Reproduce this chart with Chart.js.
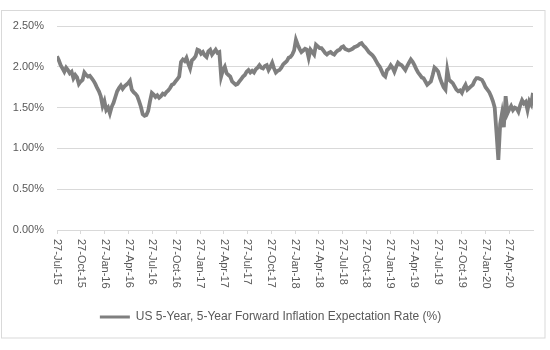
<!DOCTYPE html>
<html>
<head>
<meta charset="utf-8">
<script src="https://cdn.jsdelivr.net/npm/chart.js"></script>
<style>
  html, body { margin: 0; padding: 0; background: #fff; }
</style>
</head>
<body>
<canvas id="myChart" width="550" height="350"></canvas>
<script>
/*---------------------------- data ------------------------------------*/

// weekly readings, first one on 27-Jul-15
var startDate = '2015-07-27';
var tickLabels = ['27-Jul-15','27-Oct-15','27-Jan-16','27-Apr-16','27-Jul-16','27-Oct-16',
  '27-Jan-17','27-Apr-17','27-Jul-17','27-Oct-17','27-Jan-18','27-Apr-18','27-Jul-18',
  '27-Oct-18','27-Jan-19','27-Apr-19','27-Jul-19','27-Oct-19','27-Jan-20','27-Apr-20'];
var tickDates = ['2015-07-27','2015-10-27','2016-01-27','2016-04-27','2016-07-27','2016-10-27',
  '2017-01-27','2017-04-27','2017-07-27','2017-10-27','2018-01-27','2018-04-27','2018-07-27',
  '2018-10-27','2019-01-27','2019-04-27','2019-07-27','2019-10-27','2020-01-27','2020-04-27'];
var seriesName = 'US 5-Year, 5-Year Forward Inflation Expectation Rate (%)';
var rate = [
  2.13,2.08,2.02,1.98,1.94,1.99,1.96,1.92,1.94,1.86,1.90,1.87,1.79,
  1.82,1.84,1.93,1.90,1.88,1.89,1.86,1.83,1.79,1.74,1.70,1.64,1.52,
  1.58,1.47,1.50,1.43,1.51,1.56,1.63,1.70,1.74,1.77,1.73,1.76,1.78,
  1.80,1.83,1.72,1.69,1.67,1.64,1.58,1.51,1.42,1.40,1.41,1.46,1.58,
  1.68,1.66,1.63,1.65,1.62,1.64,1.67,1.66,1.69,1.71,1.74,1.78,1.79,
  1.82,1.85,1.88,2.06,2.09,2.07,2.11,2.04,1.98,2.08,2.10,2.13,2.21,
  2.20,2.16,2.18,2.14,2.12,2.19,2.21,2.15,2.18,2.21,2.17,2.18,1.88,
  1.96,2.00,1.92,1.90,1.88,1.82,1.80,1.78,1.79,1.82,1.85,1.88,1.90,
  1.94,1.96,1.93,1.95,1.93,1.97,1.99,2.02,1.99,1.98,2.01,2.02,1.96,
  2.00,2.05,1.98,1.93,1.95,1.96,1.99,2.03,2.05,2.07,2.11,2.12,2.15,
  2.20,2.33,2.27,2.22,2.18,2.20,2.22,2.21,2.11,2.21,2.18,2.15,2.27,
  2.25,2.23,2.23,2.20,2.17,2.15,2.17,2.18,2.16,2.15,2.18,2.20,2.21,
  2.24,2.25,2.22,2.21,2.20,2.21,2.22,2.24,2.25,2.26,2.28,2.29,2.26,
  2.24,2.21,2.18,2.16,2.14,2.11,2.07,2.03,2.00,1.95,1.90,1.88,1.96,
  1.98,2.02,1.99,1.94,2.00,2.05,2.03,2.02,1.99,1.96,2.01,2.05,2.09,
  2.06,2.02,1.97,1.93,1.90,1.87,1.86,1.82,1.78,1.80,1.82,1.90,1.99,
  1.97,1.94,1.86,1.80,1.75,1.72,1.96,1.84,1.82,1.80,1.76,1.72,1.70,
  1.71,1.68,1.74,1.78,1.72,1.74,1.76,1.78,1.83,1.86,1.86,1.85,1.84,
  1.80,1.75,1.72,1.69,1.64,1.58,1.50,1.19,0.86,1.30,1.43,1.26,1.64,
  1.43,1.48,1.52,1.47,1.50,1.49,1.45,1.53,1.59,1.55,1.57,1.47,1.58,
  1.54,1.68
];
var yTicks = [0, 0.5, 1.0, 1.5, 2.0, 2.5];

/*---------------------------- helpers ------------------------------------*/

function dayOffset(d) {
  return (Date.parse(d) - Date.parse(startDate)) / 86400000;
}
var tickDays = tickDates.map(dayOffset);
var points = rate.map(function (v, i) { return { x: i * 7, y: v }; });

var fontFamily = '"Liberation Sans", Arial, sans-serif';
var labelFont = '11px ' + fontFamily;
var textColor = '#595959';
var gridColor = '#d9d9d9';

// Excel style: tick labels turned a quarter clockwise, reading downwards
var rotatedLabels = {
  id: 'rotatedLabels',
  beforeDraw: function (chart) {
    var ctx = chart.ctx;
    ctx.save();
    ctx.strokeStyle = gridColor;
    ctx.lineWidth = 1;
    ctx.strokeRect(1.5, 10.5, 543.5, 327.5);
    ctx.restore();
  },
  afterDraw: function (chart) {
    var ctx = chart.ctx;
    var xs = chart.scales.x;
    ctx.save();
    ctx.font = labelFont;
    ctx.fillStyle = textColor;
    ctx.textAlign = 'left';
    ctx.textBaseline = 'middle';
    tickLabels.forEach(function (lab, i) {
      var px = xs.getPixelForValue(tickDays[i]);
      ctx.save();
      ctx.translate(px, chart.chartArea.bottom + 9);
      ctx.rotate(Math.PI / 2);
      ctx.fillText(lab, 0, 0);
      ctx.restore();
    });
    ctx.restore();
  }
};

/*---------------------------- LineChart ------------------------------------*/

new Chart('myChart', {
  type: 'line',
  data: {
    datasets: [{
      label: seriesName,
      data: points,
      borderColor: '#7f7f7f',
      backgroundColor: '#7f7f7f',
      borderWidth: 3.8,
      pointRadius: 0,
      tension: 0,
      fill: false
    }]
  },
  options: {
    responsive: false,
    animation: false,
    layout: { padding: { left: 8, right: 17, top: 26, bottom: 17 } },
    plugins: {
      tooltip: { enabled: false },
      legend: {
        position: 'bottom',
        labels: {
          boxWidth: 30,
          boxHeight: 3,
          padding: 4,
          color: textColor,
          font: { family: fontFamily, size: 12 },
          generateLabels: function (chart) {
            return Chart.defaults.plugins.legend.labels.generateLabels(chart).map(function (l) {
              l.lineWidth = 0;
              return l;
            });
          }
        }
      }
    },
    scales: {
      x: {
        type: 'linear',
        min: 0,
        max: (rate.length - 1) * 7,
        afterBuildTicks: function (s) {
          s.ticks = tickDays.map(function (d) { return { value: d }; });
        },
        afterFit: function (s) {
          s.height = 350 - 230 - 17 - s.chart.legend.height;
        },
        ticks: { display: false },
        grid: { drawOnChartArea: false, drawTicks: true, tickLength: 4, color: gridColor },
        border: { display: true, color: gridColor }
      },
      y: {
        min: 0,
        max: 2.5,
        afterBuildTicks: function (s) {
          s.ticks = yTicks.map(function (v) { return { value: v }; });
        },
        afterFit: function (s) { s.width = 49; },
        ticks: {
          padding: 13,
          color: textColor,
          font: { family: fontFamily, size: 11 },
          callback: function (v) { return v.toFixed(2) + '%'; }
        },
        grid: { color: gridColor, drawTicks: false },
        border: { display: false }
      }
    }
  },
  plugins: [rotatedLabels]
});
</script>
</body>
</html>
